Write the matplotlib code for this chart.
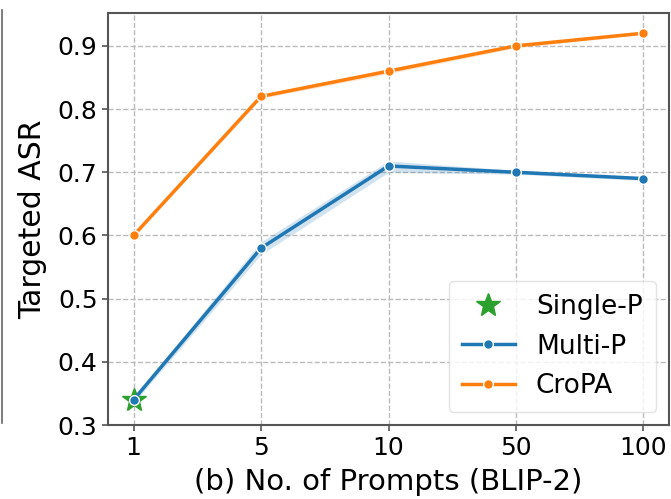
import matplotlib
matplotlib.use("Agg")
import matplotlib.pyplot as plt
from matplotlib.lines import Line2D
import numpy as np

# data
prompts = ["1", "5", "10", "50", "100"]
multi_p = [0.34, 0.58, 0.71, 0.70, 0.69]
multi_lo = [0.335, 0.570, 0.700, 0.697, 0.687]
multi_hi = [0.345, 0.590, 0.718, 0.703, 0.693]
cropa = [0.60, 0.82, 0.86, 0.90, 0.92]
cropa_lo = [0.598, 0.817, 0.856, 0.897, 0.918]
cropa_hi = [0.602, 0.823, 0.864, 0.903, 0.922]
single_p = [0.34]

x = np.arange(len(prompts))

fig = plt.figure(figsize=(6.71, 4.99), dpi=100)
ax = fig.add_axes([0.161, 0.148, 0.836, 0.826])

ax.grid(True, linestyle="--", color="#bbbbbb", linewidth=1)
ax.set_axisbelow(True)

ax.fill_between(x, multi_lo, multi_hi, color="tab:blue", alpha=0.2, linewidth=0)
ax.fill_between(x, cropa_lo, cropa_hi, color="tab:orange", alpha=0.2, linewidth=0)

ax.plot(x[:1], single_p, linestyle="none", marker="*", markersize=18,
        color="tab:green", label="Single-P", zorder=3)
ax.plot(x, multi_p, color="tab:blue", linewidth=2.5, marker="o", markersize=7,
        markeredgecolor="white", markeredgewidth=1, label="Multi-P", zorder=4)
ax.plot(x, cropa, color="tab:orange", linewidth=2.5, marker="o", markersize=7,
        markeredgecolor="white", markeredgewidth=1, label="CroPA", zorder=4)

ax.set_xlim(-0.2, 4.2)
ax.set_ylim(0.3, 0.952)
ax.set_xticks(x)
ax.set_xticklabels(prompts)
ax.set_yticks([0.3, 0.4, 0.5, 0.6, 0.7, 0.8, 0.9])
ax.tick_params(labelsize=18, length=4, width=1.2, color="#555555")
for s in ax.spines.values():
    s.set_color("#555555")
    s.set_linewidth(1.5)

ax.set_ylabel("Targeted ASR", fontsize=21.5, labelpad=8)
ax.set_xlabel("(b) No. of Prompts (BLIP-2)", fontsize=21, labelpad=6)

ax.legend(loc="lower right", fontsize=19, framealpha=0.8, edgecolor="#dddddd",
          handlelength=2.0, borderpad=0.5)

# edge of the neighbouring panel on the left
fig.add_artist(Line2D([0.003, 0.003], [0.152, 0.98], color="#666666", linewidth=1.2))

fig.savefig("out.png", dpi=100)
